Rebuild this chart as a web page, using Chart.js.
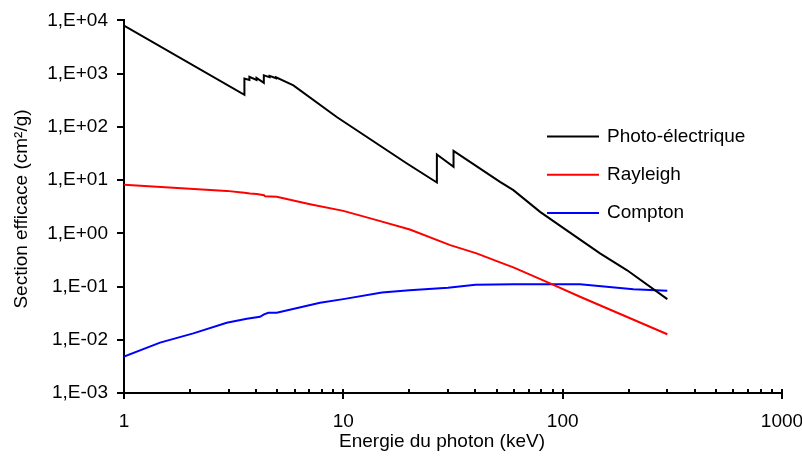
<!DOCTYPE html>
<html lang="fr">
<head>
<meta charset="UTF-8">
<title>Sections efficaces CdTe</title>
<script src="https://cdn.jsdelivr.net/npm/chart.js@4/dist/chart.umd.min.js"></script>
<style>
  html, body { margin: 0; padding: 0; background: #fff; }
  #box { position: relative; width: 802px; height: 459px; }
</style>
</head>
<body>
<div id="box"><canvas id="c" width="802" height="459"></canvas></div>
<script>
const FONT = '"Liberation Sans", Arial, Helvetica, sans-serif';

// Photo-électrique (keV, cm²/g) – seuils L (3.5–5 keV) et K (Cd 26.7, Te 31.8)
const photoE  = [1, 3.54, 3.54, 3.73, 3.73, 4.02, 4.02, 4.34, 4.34, 4.61, 4.61, 4.94, 4.94,
                 5.92, 9.33, 19.5, 26.7, 26.7, 31.8, 31.8, 51.8, 59.6, 78.9, 104, 148, 196, 300];
const photoMu = [8000, 400, 810, 760, 870, 760, 830, 670, 930, 860, 910, 820, 850,
                 603, 153, 20.5, 9.0, 30.2, 17.7, 35.3, 9.25, 6.46, 2.53, 1.15, 0.42, 0.204, 0.058];

// Rayleigh
const rayE  = [1, 2.94, 3.54, 3.75, 4.03, 4.35, 4.4, 4.97, 7.05, 10, 14.2, 20.1, 30.7, 40.5,
               51.8, 59.6, 87.6, 120, 300];
const rayMu = [8.13, 6.27, 5.8, 5.6, 5.45, 5.2, 4.95, 4.84, 3.53, 2.64, 1.77, 1.18, 0.60, 0.42,
               0.284, 0.229, 0.115, 0.0644, 0.0127];

// Compton
const compE  = [1, 1.46, 2.07, 2.94, 3.63, 4.17, 4.35, 4.55, 4.97, 7.83, 10, 15, 20, 30, 40,
                60, 120, 210, 300];
const compMu = [0.00482, 0.00883, 0.0132, 0.0209, 0.0249, 0.027, 0.030, 0.0322, 0.0322, 0.0497,
                0.058, 0.077, 0.085, 0.095, 0.108, 0.11, 0.11, 0.0885, 0.0834];

const xMajor = [1, 10, 100, 1000];
const xMinor = [2, 3, 4, 5, 6, 7, 8, 9, 20, 30, 40, 50, 60, 70, 80, 90, 200, 300, 400, 500, 600, 700, 800, 900];
const yMajor = [1e-3, 1e-2, 1e-1, 1e0, 1e1, 1e2, 1e3, 1e4];

const seriesNames  = ['Photo-électrique', 'Rayleigh', 'Compton'];
const seriesColors = ['#000000', '#ff0000', '#0000ff'];

const xTitle = 'Energie du photon (keV)';
const yTitle = 'Section efficace (cm²/g)';

const pts = (xs, ys) => xs.map((x, i) => ({ x, y: ys[i] }));

// format Excel : 1,E+04 / 1,E-03
function sciLabel(v) {
  const e = Math.round(Math.log10(v));
  const s = String(Math.abs(e)).padStart(2, '0');
  return '1,E' + (e < 0 ? '-' : '+') + s;
}

// graduations de l'axe X : majeures en croix, mineures vers l'intérieur
const xTickPlugin = {
  id: 'xTicks',
  afterDraw(chart) {
    const { ctx, scales: { x } } = chart;
    const y0 = x.top;
    ctx.save();
    ctx.strokeStyle = '#000';
    ctx.lineWidth = 2;
    ctx.beginPath();
    xMajor.forEach(v => {
      const px = Math.round(x.getPixelForValue(v));
      ctx.moveTo(px, y0 - 4); ctx.lineTo(px, y0 + 6);
    });
    xMinor.forEach(v => {
      const px = Math.round(x.getPixelForValue(v));
      ctx.moveTo(px, y0 - 4); ctx.lineTo(px, y0);
    });
    ctx.stroke();
    ctx.restore();
  }
};

// titres des axes et légende
const textPlugin = {
  id: 'texts',
  afterDraw(chart) {
    const ctx = chart.ctx;
    ctx.save();
    ctx.fillStyle = '#000';
    ctx.font = '19px ' + FONT;
    ctx.textAlign = 'center';
    ctx.textBaseline = 'middle';
    ctx.fillText(xTitle, 442, 442);
    ctx.translate(22, 209);
    ctx.rotate(-Math.PI / 2);
    ctx.fillText(yTitle, 0, 0);
    ctx.restore();

    ctx.save();
    ctx.font = '19px ' + FONT;
    ctx.textAlign = 'left';
    ctx.textBaseline = 'middle';
    chart.data.datasets.forEach((ds, i) => {
      const ly = 136.5 + i * 38.3;
      ctx.strokeStyle = ds.borderColor;
      ctx.lineWidth = 2;
      ctx.beginPath();
      ctx.moveTo(547, ly); ctx.lineTo(599, ly);
      ctx.stroke();
      ctx.fillStyle = '#000';
      ctx.fillText(ds.label, 607, ly);
    });
    ctx.restore();
  }
};

const lineDs = (i, data) => ({
  label: seriesNames[i],
  data,
  borderColor: seriesColors[i],
  backgroundColor: seriesColors[i],
  borderWidth: 2,
  pointRadius: 0,
  tension: 0,
  fill: false,
});

new Chart(document.getElementById('c'), {
  type: 'line',
  data: {
    datasets: [
      lineDs(0, pts(photoE, photoMu)),
      lineDs(1, pts(rayE, rayMu)),
      lineDs(2, pts(compE, compMu)),
    ]
  },
  plugins: [xTickPlugin, textPlugin],
  options: {
    responsive: false,
    devicePixelRatio: 1,
    animation: false,
    layout: { padding: { left: 0, right: 0, top: 20, bottom: 0 } },
    plugins: { legend: { display: false }, tooltip: { enabled: false } },
    scales: {
      x: {
        type: 'logarithmic',
        min: 1, max: 1000,
        afterBuildTicks: s => { s.ticks = xMajor.map(v => ({ value: v })); },
        afterFit: s => { s.height = 66; s.paddingLeft = 0; s.paddingRight = 20; },
        grid: { display: false, drawTicks: false },
        border: { display: true, color: '#000', width: 2 },
        ticks: {
          autoSkip: false, maxRotation: 0, padding: 17,
          color: '#000', font: { family: FONT, size: 19 },
          callback: v => String(v),
        },
      },
      y: {
        type: 'logarithmic',
        min: 1e-3, max: 1e4,
        afterBuildTicks: s => { s.ticks = yMajor.map(v => ({ value: v })); },
        afterFit: s => { s.width = 124; },
        grid: { display: true, drawOnChartArea: false, drawTicks: true, tickLength: 7, color: '#000', lineWidth: 2 },
        border: { display: true, color: '#000', width: 2 },
        ticks: {
          autoSkip: false, padding: 9,
          color: '#000', font: { family: FONT, size: 19 },
          callback: v => sciLabel(v),
        },
      },
    },
  },
});
</script>
</body>
</html>
